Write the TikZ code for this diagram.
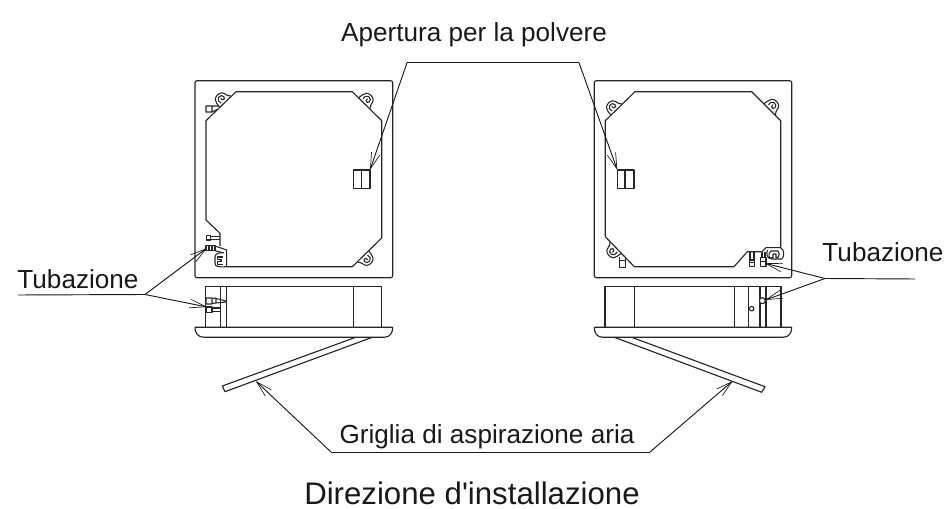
\documentclass[tikz,border=0pt]{standalone}
\usepackage{fontspec}
\setmainfont{Liberation Sans}[Ligatures=TeXOff]
\usetikzlibrary{arrows.meta}
\tikzset{
  x=0.75pt,y=-0.75pt,
  part/.style={draw=black!85,line width=0.85pt,line join=round},
  fine/.style={draw=black!85,line width=0.8pt,line join=round},
  leader/.style={draw=black!90,line width=0.7pt,-{Straight Barb[length=12pt,width=6.5pt,line width=0.5pt]}},
  plainleader/.style={draw=black!90,line width=0.7pt},
  label/.style={inner sep=0pt,font=\fontsize{19.6pt}{22pt}\selectfont,text=black!90},
  hook/.pic={
    \draw[fine] (0,-8) .. controls (4,-7) and (7,-7.5) .. (9,-5.5) .. controls (11.5,-3) and (11,2) .. (9,4) .. controls (7,6) and (3,5) .. (0.5,8);
    \draw[fine] (2.5,-4) -- (6,-4.2) .. controls (8.5,-3.5) and (8.8,0) .. (7.5,1.5) .. controls (6,3) and (4,3) .. (3,1.5) .. controls (2.6,0) and (4,-1.5) .. (6,-1);
  }
}
\begin{document}
\begin{tikzpicture}
\useasboundingbox (0,0) rectangle (946,509);
% left upper
\draw[part,rounded corners=1.5pt] (195,80.7) rectangle (392.7,277.7);
\draw[part] (236,91.7) -- (352.3,91.7) -- (381.7,120.7) -- (381.7,238) -- (352.3,266.7) -- (226.7,266.7);
\draw[part] (236,91.7) -- (206,120.7) -- (206,220) -- (220,233.3) -- (220,246);
\draw[fine] (353.3,170) rectangle (370,188.3) (361.7,170) -- (361.7,188.3);
\pic[rotate=135] at (225.5,102) {hook};
\pic[rotate=45] at (364,103.5) {hook};
\pic[rotate=-45] at (362.9,256.2) {hook};
\draw[fine] (206,106) rectangle (212,112) (212,106) -- (219,106) (212,112) -- (218,109);
\draw[fine] (206.5,235.7) rectangle (210.7,240) (210.7,236.5) -- (220,236.5) (210.7,239.2) -- (220,239.2);
\draw[fine] (206,245.7) rectangle (215,250.7) (209,245.7) -- (209,250.7) (212,245.7) -- (212,250.7);
\draw[fine] (215,246) -- (226.7,250) -- (226.7,266.7) (215,250.7) -- (222,252.5);
\draw[fine] (226.7,266.7) .. controls (218,267) and (215,267) .. (215,263) -- (215,257) .. controls (215,253.5) and (219,252.5) .. (224,252.7);
\draw[fine] (223,257) -- (217.5,257) -- (217.5,259.7) -- (221,259.7) -- (221,261.7) -- (217.5,261.7) -- (217.5,264.3) -- (223,264.3);
% left lower
\draw[part] (205.7,327.3) -- (205.7,286.7) -- (381.7,286.7) -- (381.7,327.3);
\draw[part] (220.7,286.7) -- (220.7,327.3) (226.7,286.7) -- (226.7,327.3) (353.3,286.7) -- (353.3,327.3);
\draw[part] (195,327.3) -- (392.7,327.3) .. controls (392.7,333) and (390,337.3) .. (384,337.3) -- (204,337.3) .. controls (198,337.3) and (195,333) .. (195,327.3);
\draw[part] (355.7,337.3) -- (222.3,386) -- (225,391.7) -- (372.3,337.3);
\draw[fine] (206,298) rectangle (212,304) (212,298.5) -- (216,298) (212,303.5) -- (216,303) (216,298) -- (216,303);
\draw[fine] (216,298.5) -- (226,301) (216,303) -- (226,302);
\draw[fine] (206,307) rectangle (212,312.5) (212,308) -- (220.7,308) (212,311.5) -- (220.7,311.5);
% right upper
\draw[part,rounded corners=1.5pt] (594.3,80.7) rectangle (791.7,277.7);
\draw[part] (605.3,236.7) -- (605.3,120.7) -- (635,91.7) -- (751.7,91.7) -- (780.7,120.7) -- (780.7,247.7);
\draw[part] (605.3,236.7) -- (634.3,266.7) -- (734,266.7) -- (747.3,251.7) -- (761,251.7);
\draw[fine] (617.3,170) rectangle (634,188.3) (625,170) -- (625,188.3);
\pic[rotate=135] at (616.7,110) {hook};
\pic[rotate=45] at (769.5,109.5) {hook};
\pic[rotate=225] at (616,247.5) {hook};
\draw[fine] (619.5,257) -- (619.5,267.5) -- (625.5,267.5) -- (625.5,257);
\draw[fine] (619.5,260.5) -- (625.5,260.5);
\draw[fine] (750,252) -- (750,260) (754,252) -- (754,260);
\draw[fine] (749.5,260) rectangle (754.5,266.7) (749.5,262.5) -- (754.5,262.5);
\draw[fine] (760.7,257.7) rectangle (766,266.7) (760.7,261.5) -- (766,261.5);
\draw[fine] (762,257.7) -- (762,252) (765,257.7) -- (765,252);
\draw[fine] (761.7,252) -- (766,247.7) -- (780.7,247.7);
\draw[fine] (780.7,247.7) .. controls (784.5,250) and (784.5,256) .. (782,259) (782,259) -- (772,259) .. controls (767,259) and (766,254) .. (767.5,250);
\draw[fine] (769.5,258) .. controls (768.5,254) and (769,252) .. (771,251) -- (778,251) .. controls (780,252.5) and (779.5,256) .. (778,257.5) -- (776,257.5) -- (776,254) -- (773,254) -- (773,257.5) -- (769.5,258);
% right lower
\draw[part] (605,327.3) -- (605,286.7) -- (781,286.7) -- (781,327.3);
\draw[part] (634.3,286.7) -- (634.3,327.3) (734.3,286.7) -- (734.3,327.3) (748.3,286.7) -- (748.3,327.3) (760,286.7) -- (760,327.3) (766,286.7) -- (766,327.3);
\draw[part] (594.3,327.3) -- (791.7,327.3) .. controls (791.7,333) and (789,337.3) .. (783,337.3) -- (603,337.3) .. controls (597,337.3) and (594.3,333) .. (594.3,327.3);
\draw[part] (614.3,337.3) -- (761.7,392.3) -- (765,386.7) -- (631.7,337.3);
\draw[fine] (751.7,308.7) circle[radius=2.3];
\draw[part,fill=white] (762.3,300.7) circle[radius=3];
% labels
\node[label,anchor=base] (dust) at (474,41.2) {Apertura per la polvere};
\node[label,anchor=base] (tubeL) at (78,288.5) {Tubazione};
\node[label,anchor=base] (tubeR) at (883,261.5) {Tubazione};
\node[label,anchor=base] (grille) at (487,443.5) {Griglia di aspirazione aria};
\node[inner sep=0pt,anchor=base,font=\fontsize{23.4pt}{26pt}\selectfont,text=black!90] (dir) at (472,504) {Direzione d'installazione};
% leaders
\coordinate (dustL) at (407,62.7); \coordinate (dustR) at (579,62.7);
\coordinate (dustTipL) at (370,170); \coordinate (dustTipR) at (617.3,170);
\coordinate (tlStart) at (18,295); \coordinate (tlJoin) at (145,294.5);
\coordinate (tlTipA) at (207,248); \coordinate (tlTipB) at (207,307);
\coordinate (trEnd) at (915,279); \coordinate (trJoin) at (825,278.5);
\coordinate (trTipA) at (765,263.3); \coordinate (trTipB) at (765.3,300);
\coordinate (grJoinL) at (331,452); \coordinate (grJoinR) at (650,452);
\coordinate (grTipL) at (255.7,381); \coordinate (grTipR) at (732.7,381);
\draw[plainleader] (dustL) -- (dustR);
\draw[leader] (dustL) -- (dustTipL);
\draw[leader] (dustR) -- (dustTipR);
\draw[plainleader] (tlStart) -- (tlJoin);
\draw[leader] (tlJoin) -- (tlTipA);
\draw[leader] (tlJoin) -- (tlTipB);
\draw[plainleader] (trEnd) -- (trJoin);
\draw[leader] (trJoin) -- (trTipA);
\draw[leader] (trJoin) -- (trTipB);
\draw[plainleader] (grJoinL) -- (grJoinR);
\draw[leader] (grJoinL) -- (grTipL);
\draw[leader] (grJoinR) -- (grTipR);
\end{tikzpicture}
\end{document}
